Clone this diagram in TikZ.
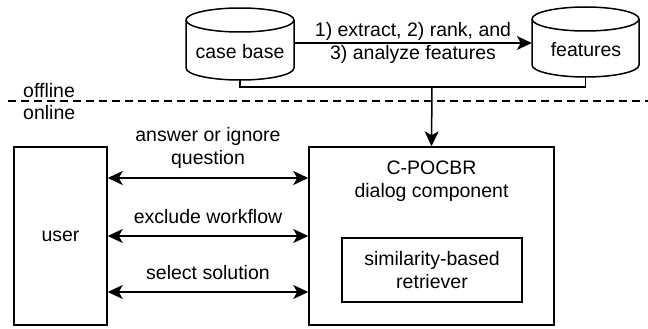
\documentclass[tikz,border=0pt]{standalone}
\usepackage{fontspec}
\setmainfont{Liberation Sans}
\usetikzlibrary{arrows.meta,calc}
\begin{document}
\begin{tikzpicture}[x=1pt,y=-1pt,
  every node/.style={font=\fontsize{19.5}{23}\selectfont, inner sep=0pt, align=center},
  ln/.style={line width=1.5pt},
  arr/.style={ln, -{Stealth[length=15pt,width=14pt,inset=4pt]}},
  biarr/.style={ln, {Stealth[length=15pt,width=14pt,inset=4pt]}-{Stealth[length=15pt,width=14pt,inset=4pt]}},
  boxx/.style={draw, line width=1.5pt, inner sep=0pt}]
\useasboundingbox (0,0) rectangle (648,329);
% cylinders
\newcommand{\cyl}[5]{% name, x1, x2, top, bottom
  \draw[ln] (#2,#4+12) -- (#2,#5-12) arc[start angle=180,end angle=0,x radius={(#3-#2)/2},y radius=12] -- (#3,#4+12)
    arc[start angle=0,end angle=-180,x radius={(#3-#2)/2},y radius=12] -- cycle;
  \draw[ln] (#2,#4+12) arc[start angle=180,end angle=0,x radius={(#3-#2)/2},y radius=12];
  \node[minimum width={#3-#2}, minimum height={#5-#4}] (#1) at ({(#2+#3)/2},{(#4+#5)/2}) {};
}
\cyl{cb}{186}{294}{8}{80}
\cyl{ft}{532}{639}{7}{77}
\node at (240,52) {case base};
\node at (586,50) {features};
% extract arrow
\draw[arr] (cb.east |- 0,43) -- (ft.west |- 0,43);
\node (l1) at (413,31) {1) extract, 2) rank, and};
\node (l2) at (413,54) {3) analyze features};
% offline / online
\draw[line width=1.3pt, dash pattern=on 8pt off 5pt] (8,101) coordinate (d1) -- (648,101) coordinate (d2);
\node[anchor=west] (off) at (23,91) {offline};
\node[anchor=west] (on) at (23,113) {online};
% boxes
\node[boxx, minimum width=93pt, minimum height=178pt] (user) at (60.5,236) {user};
\node[boxx, minimum width=245pt, minimum height=178pt] (cp) at (431.5,236) {};
\node at (431.5,181) {C-POCBR\\dialog component};
\node[boxx, minimum width=180pt, minimum height=64pt] (ret) at (432,270) {similarity-based\\retriever};
% merge lines
\coordinate (j) at (432,87);
\draw[ln] (cb.south) -- (cb.south |- j) -- (ft.south |- j) -- (ft.south);
\draw[arr] (j) -- (cp.north);
% bidirectional arrows
\draw[biarr] (user.east |- 0,178) -- (cp.west |- 0,178);
\draw[biarr] (user.east |- 0,236) -- (cp.west |- 0,236);
\draw[biarr] (user.east |- 0,292) -- (cp.west |- 0,292);
\node at (208,148) {answer or ignore\\question};
\node at (208,217) {exclude workflow};
\node at (208,273) {select solution};
\end{tikzpicture}
\end{document}
